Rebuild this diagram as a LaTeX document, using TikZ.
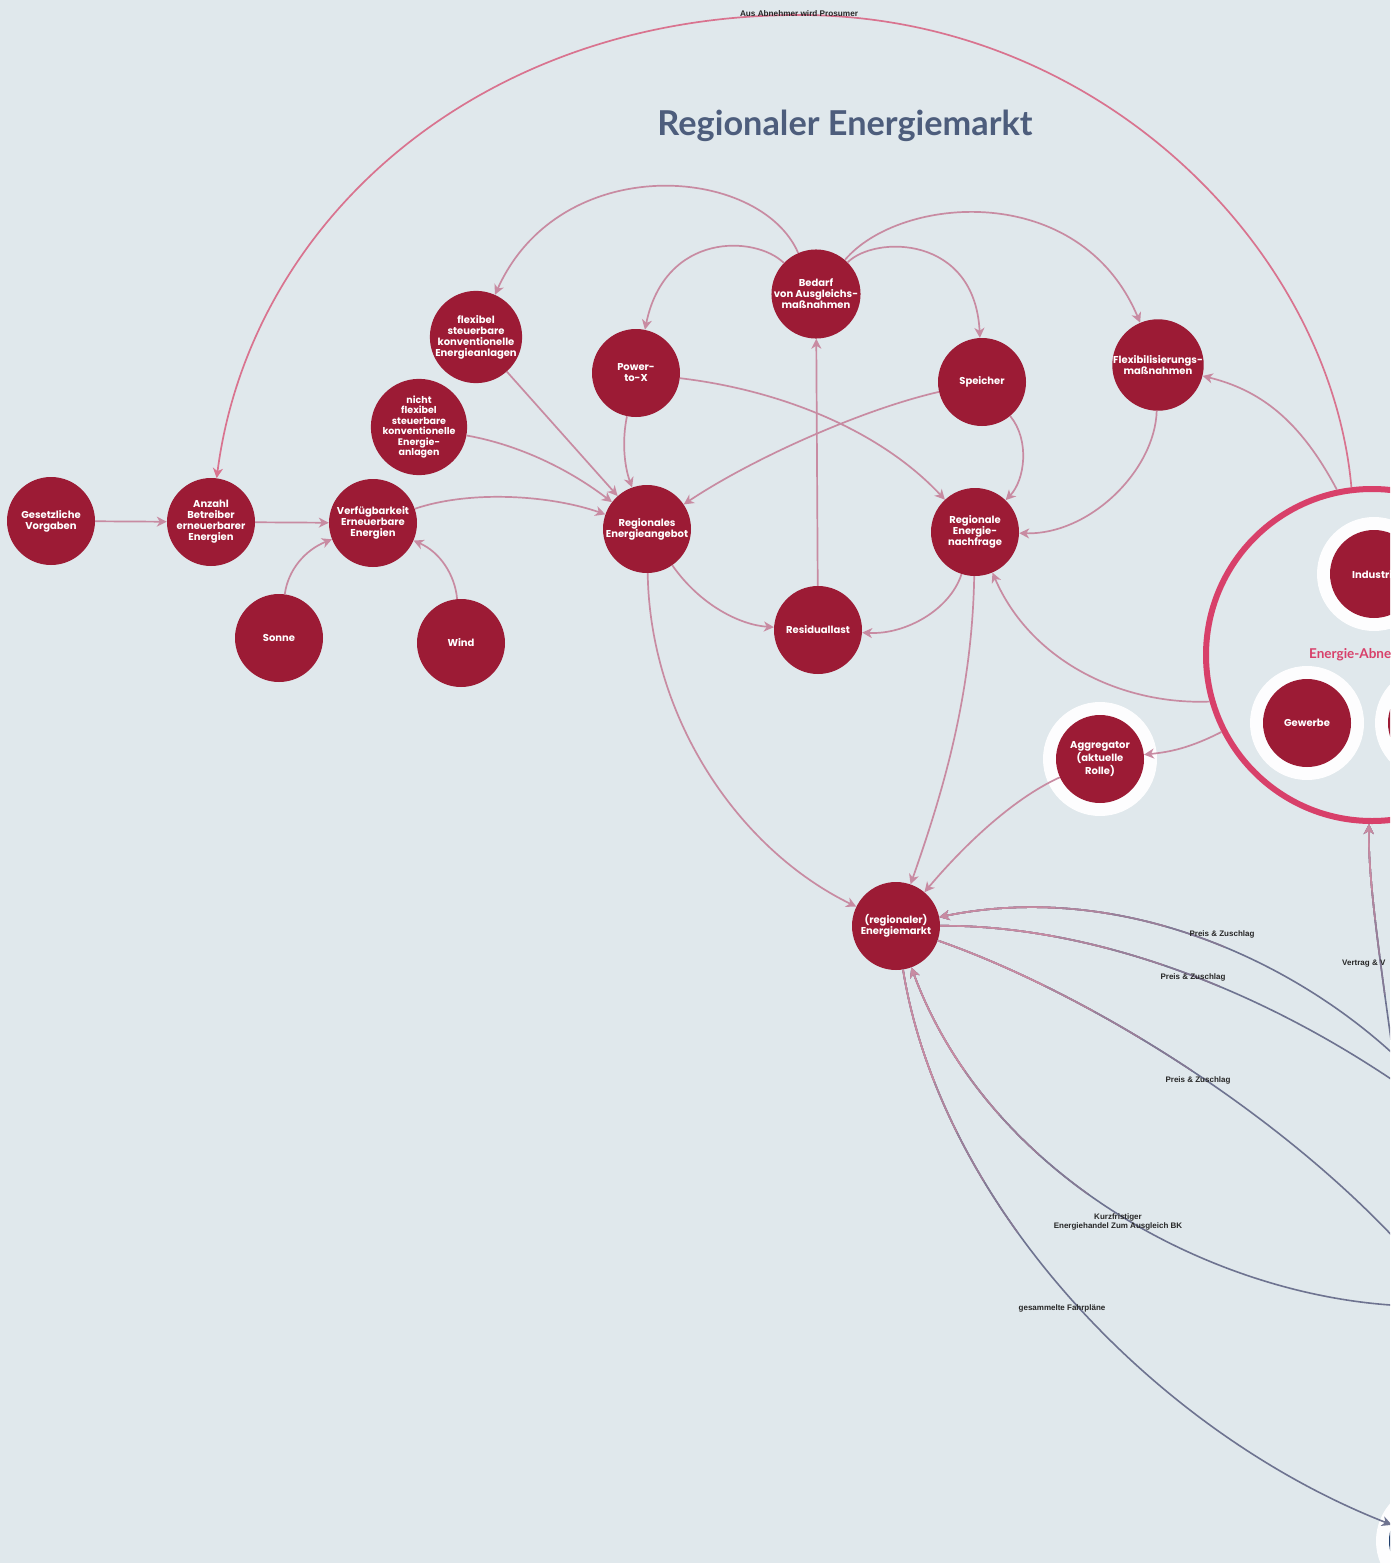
\documentclass[tikz,border=0pt]{standalone}
\usepackage{fontspec}
\setmainfont{Lato}
\newfontfamily\ndfont{Poppins}
\newfontfamily\lbfont{Liberation Sans}
\usetikzlibrary{arrows.meta}
\definecolor{bg}{HTML}{E0E8EC}
\definecolor{nd}{HTML}{9C1B35}
\definecolor{pk}{HTML}{C88BA2}
\definecolor{pkb}{HTML}{D9738F}
\definecolor{ringc}{HTML}{D8406A}
\definecolor{gb}{HTML}{6E7390}
\definecolor{ttl}{HTML}{4D5D7C}
\definecolor{bl}{HTML}{1E3D6C}
\tikzset{
 ent/.style={circle, fill=nd, minimum size=88pt, inner sep=0pt, text=white, font=\ndfont\bfseries\fontsize{10}{11}\selectfont, align=center},
 halo/.style={circle, fill=white, fill opacity=0.95, minimum size=114pt, inner sep=0pt},
 con/.style={draw=pk, line width=1.7pt},
 tip/.style={-{Stealth[length=10pt,width=10pt,inset=3pt]}},
 lbl/.style={font=\lbfont\bfseries\fontsize{8}{9.5}\selectfont, text=black!85, inner sep=0pt, align=center},
}
\newcommand\marketlines[1]{%
 \draw[#1,tip] (cA) .. controls (1300,960) and (1120,880) .. (em);
 \draw[#1] (em) .. controls (1080,925) and (1250,980) .. (cB);
 \draw[#1] (em) .. controls (1080,990) and (1280,1110) .. (cC);
 \draw[#1,tip] (cD) .. controls (1220,1300) and (990,1180) .. (em);
 \draw[#1,tip] (em) .. controls (940,1200) and (1150,1430) .. (bn);
}
\newcommand\vertragline[1]{%
 \draw[#1,tip] (vt) .. controls (1380,960) and (1368,880) .. (abn);
}
\begin{document}
\begin{tikzpicture}[x=1pt,y=-1pt]
\path[use as bounding box, fill=bg] (0,0) rectangle (1390,1563);
\clip (0,0) rectangle (1390,1563);

% title
\node[text=ttl, inner sep=0pt] (title) at (845,126) {\resizebox{375pt}{!}{\bfseries Regionaler Energiemarkt}};

% halos
\node[halo] (hagg) at (1100,759) {};
\node[halo] (hind) at (1374,574) {};
\node[halo] (hgw) at (1307,723) {};
\node[halo] (hx3) at (1432,723) {};
\node[halo] (hbn) at (1433,1541) {};

% nodes
\node[ent] (gv) at (51,521) {Gesetzliche\\Vorgaben};
\node[ent] (ab) at (211,522) {Anzahl\\Betreiber\\erneuerbarer\\Energien};
\node[ent] (vf) at (373,523) {Verfügbarkeit\\Erneuerbare\\Energien};
\node[ent] (so) at (279,638) {Sonne};
\node[ent] (wi) at (461,643) {Wind};
\node[ent] (fl) at (476,337) {flexibel\\steuerbare\\konventionelle\\Energieanlagen};
\node[ent, font=\ndfont\bfseries\fontsize{9.5}{10.5}\selectfont] (nf) at (419,427) {nicht\\flexibel\\steuerbare\\konventionelle\\Energie-\\anlagen};
\node[ent] (ptx) at (636,373) {Power-\\to-X};
\node[ent] (bd) at (816,294) {Bedarf\\von Ausgleichs-\\maßnahmen};
\node[ent] (sp) at (982,382) {Speicher};
\node[ent] (fx) at (1158,365) {Flexibilisierungs-\\maßnahmen};
\node[ent] (ang) at (647,529) {Regionales\\Energieangebot};
\node[ent] (na) at (975,532) {Regionale\\Energie-\\nachfrage};
\node[ent] (rl) at (818,630) {Residuallast};
\node[ent] (agg) at (1100,759) {Aggregator\\(aktuelle\\Rolle)};
\node[ent] (em) at (896,926) {(regionaler)\\Energiemarkt};
\node[ent] (ind) at (1374,574) {};
\node[text=white, font=\ndfont\bfseries\fontsize{10}{11}\selectfont, inner sep=0pt, anchor=west] (indt) at (1352,575) {Industri};
\node[ent] (gw) at (1307,723) {Gewerbe};
\node[ent] (x3) at (1432,723) {};
\node[ent, fill=bl] (bn) at (1433,1541) {};

% Energie-Abnehmer ring
\node[circle, draw=ringc, line width=6pt, minimum size=332pt, inner sep=0pt] (abn) at (1372,655) {};
\node[text=ringc, font=\bfseries\fontsize{13.5}{15}\selectfont, inner sep=0pt, anchor=west] (abnl) at (1309,655) {Energie-Abne};

% coordinates for free ends
\coordinate (top) at (799,15);
\coordinate (cA) at (1410,1070);
\coordinate (cB) at (1410,1092);
\coordinate (cC) at (1410,1255);
\coordinate (cD) at (1410,1306);
\coordinate (vt) at (1398,1090);

% left chain
\draw[con,tip] (gv) -- (ab);
\draw[con,tip] (ab) -- (vf);
\draw[con,tip] (so) .. controls (288,570) and (305,550) .. (vf);
\draw[con,tip] (wi) .. controls (455,575) and (440,552) .. (vf);
\draw[con,tip] (vf) .. controls (470,490) and (550,495) .. (ang);
\draw[con,tip] (nf) .. controls (520,445) and (570,470) .. (ang);
\draw[con,tip] (fl) -- (ang);
\draw[con,tip] (ptx) .. controls (622,440) and (624,465) .. (ang);
\draw[con,tip] (sp) .. controls (860,410) and (750,460) .. (ang);
\draw[con,tip] (ptx) .. controls (780,390) and (880,430) .. (na);
\draw[con,tip] (sp) .. controls (1030,440) and (1025,480) .. (na);
\draw[con,tip] (fx) .. controls (1155,470) and (1090,535) .. (na);

% Bedarf arcs
\draw[con,tip] (bd) .. controls (760,165) and (560,150) .. (fl);
\draw[con,tip] (bd) .. controls (755,235) and (665,232) .. (ptx);
\draw[con,tip] (bd) .. controls (875,235) and (975,235) .. (sp);
\draw[con,tip] (bd) .. controls (900,195) and (1080,180) .. (fx);
\draw[con,tip] (rl) -- (bd);

% Residuallast
\draw[con,tip] (ang) .. controls (700,605) and (740,625) .. (rl);
\draw[con,tip] (na) .. controls (950,610) and (905,635) .. (rl);

% to Energiemarkt
\draw[con,tip] (ang) .. controls (650,720) and (740,850) .. (em);
\draw[con,tip] (na) .. controls (972,700) and (940,800) .. (em);
\draw[con,tip] (agg) .. controls (1010,800) and (960,850) .. (em);

% from Energie-Abnehmer
\draw[con,tip] (abn) .. controls (1190,748) and (1170,752) .. (agg);
\draw[con,tip] (abn.196) .. controls (1120,705) and (1030,660) .. (na);
\draw[con,tip] (abn.102) .. controls (1300,420) and (1260,390) .. (fx);
\draw[draw=pkb, line width=1.7pt, tip] (abn.97) .. controls (1330,250) and (1100,15) .. (top) .. controls (480,15) and (250,220) .. (ab);
\node[lbl, font=\lbfont\bfseries\fontsize{8.2}{9}\selectfont] (plbl) at (799,14) {Aus Abnehmer wird Prosumer};

% market lines with step gradient
\marketlines{draw=gb, line width=1.6pt}
\foreach \rr/\cc in {330/25,270/50,215/75,160/100} {
  \begin{scope}
    \clip (em.center) circle[radius=\rr pt];
    \marketlines{draw=pk!\cc!gb, line width=1.6pt}
  \end{scope}
}
\vertragline{draw=gb, line width=1.6pt}
\foreach \rr/\cc in {340/25,300/50,265/75,235/100} {
  \begin{scope}
    \clip (abn.center) circle[radius=\rr pt];
    \vertragline{draw=pk!\cc!gb, line width=1.6pt}
  \end{scope}
}

% labels
\node[lbl] (l1) at (1222,934) {Preis \& Zuschlag};
\node[lbl] (l2) at (1193,977) {Preis \& Zuschlag};
\node[lbl] (l3) at (1198,1080) {Preis \& Zuschlag};
\node[lbl] (l4) at (1118,1222) {Kurzfristiger\\Energiehandel Zum Ausgleich BK};
\node[lbl] (l5) at (1062,1308) {gesammelte Fahrpläne};
\node[lbl, anchor=west] (l6) at (1342,964) {Vertrag \& V};
\end{tikzpicture}
\end{document}
